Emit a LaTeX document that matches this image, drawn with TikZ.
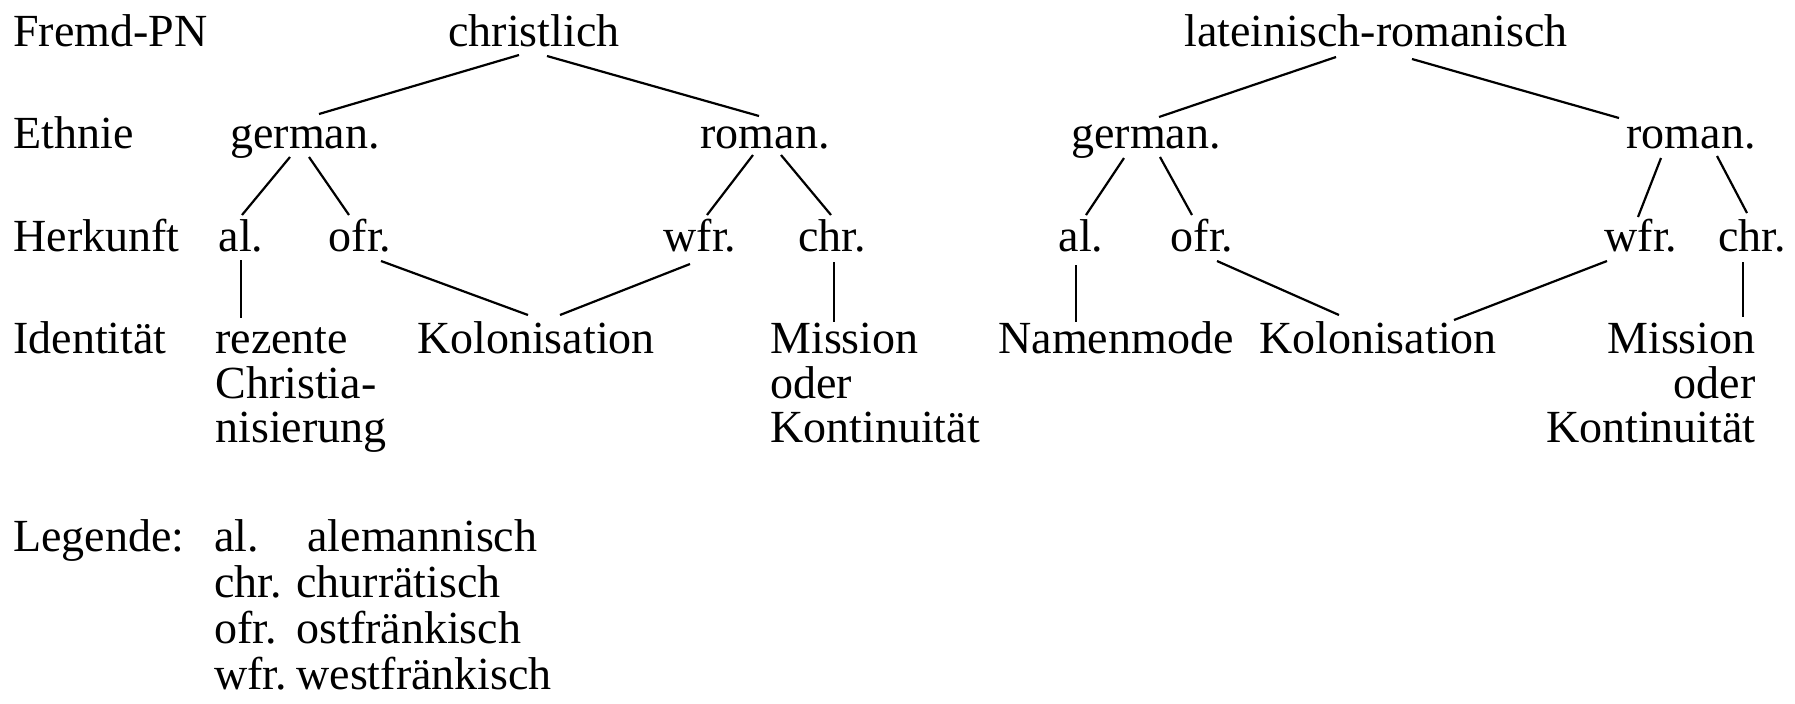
\documentclass[tikz,border=0pt]{standalone}
\usepackage{fontspec}
\setmainfont{Liberation Serif}
\usetikzlibrary{calc}
\begin{document}
\begin{tikzpicture}[x=0.5pt,y=-0.5pt,
  lbl/.style={inner sep=0pt,font=\fontsize{23}{22}\selectfont},
  txt/.style={lbl,anchor=base},
  txtl/.style={lbl,anchor=base west},
  txtr/.style={lbl,anchor=base east},
  edge/.style={line width=1.1pt}]
\useasboundingbox (0,0) rectangle (1795,703);
% row labels
\node[txtl] (rFremd) at (13,46) {Fremd-PN};
\node[txtl] (rEth) at (13,148) {Ethnie};
\node[txtl] (rHerk) at (13,251) {Herkunft};
\node[txtl] (rIdent) at (13,353) {Identität};
% left tree
\node[txt] (christ) at (534,46) {christlich};
\node[txt] (germ) at (305,148) {german.};
\node[txt] (roman) at (765,148) {roman.};
\node[txt] (al) at (241,251) {al.};
\node[txt] (ofr) at (360,251) {ofr.};
\node[txt] (wfr) at (700,251) {wfr.};
\node[txt] (chr) at (832,251) {chr.};
\node[txtl] (rez) at (215,353) {\begin{tabular}[t]{@{}l@{}}rezente\\Christia-\\nisierung\end{tabular}};
\node[txt] (kol) at (536,353) {Kolonisation};
\node[txtl] (mis) at (770,353) {\begin{tabular}[t]{@{}l@{}}Mission\\oder\\Kontinuität\end{tabular}};
% right tree
\node[txt] (lat) at (1376,46) {lateinisch-romanisch};
\node[txt] (germB) at (1146,148) {german.};
\node[txt] (romB) at (1691,148) {roman.};
\node[txt] (alB) at (1081,251) {al.};
\node[txt] (ofrB) at (1202,251) {ofr.};
\node[txt] (wfrB) at (1641,251) {wfr.};
\node[txt] (chrB) at (1752,251) {chr.};
\node[txtl] (nam) at (998,353) {Namenmode};
\node[txt] (kolB) at (1378,353) {Kolonisation};
\node[txtr] (misB) at (1756,353) {\begin{tabular}[t]{@{}r@{}}Mission\\oder\\Kontinuität\end{tabular}};
% legend
\node[txtl] (leg) at (13,551) {Legende:};
\node[txtl] (legT) at (214,551) {\fontsize{23}{23}\selectfont\begin{tabular}[t]{@{}l@{}}\makebox[46.5pt][l]{al.}alemannisch\\\makebox[41pt][l]{chr.}churrätisch\\\makebox[41pt][l]{ofr.}ostfränkisch\\\makebox[41pt][l]{wfr.}westfränkisch\end{tabular}};
% left connectors
\draw[edge] ($(christ.base)+(-15,9)$) -- ($(germ.base)+(14,-34)$);
\draw[edge] ($(christ.base)+(13,10)$) -- ($(roman.base)+(-6,-32)$);
\draw[edge] ($(germ.base)+(-15,9)$) -- ($(al.base)+(1,-36)$);
\draw[edge] ($(germ.base)+(4,9)$) -- ($(ofr.base)+(-11,-36)$);
\draw[edge] ($(roman.base)+(-12,7)$) -- ($(wfr.base)+(7,-36)$);
\draw[edge] ($(roman.base)+(16,7)$) -- ($(chr.base)+(-1,-36)$);
\draw[edge] ($(al.base)+(0,9)$) -- ($(rez.base west)+(26,-35)$);
\draw[edge] ($(ofr.base)+(21,10)$) -- ($(kol.base)+(-8,-38)$);
\draw[edge] ($(wfr.base)+(-10,13)$) -- ($(kol.base)+(24,-38)$);
\draw[edge] ($(chr.base)+(2,11)$) -- ($(mis.base west)+(64,-31)$);
% right connectors
\draw[edge] ($(lat.base)+(-40,11)$) -- ($(germB.base)+(13,-31)$);
\draw[edge] ($(lat.base)+(36,13)$) -- ($(romB.base)+(-72,-30)$);
\draw[edge] ($(germB.base)+(-22,10)$) -- ($(alB.base)+(5,-36)$);
\draw[edge] ($(germB.base)+(14,9)$) -- ($(ofrB.base)+(-10,-36)$);
\draw[edge] ($(romB.base)+(-30,10)$) -- ($(wfrB.base)+(-3,-34)$);
\draw[edge] ($(romB.base)+(26,8)$) -- ($(chrB.base)+(-5,-38)$);
\draw[edge] ($(alB.base)+(-5,14)$) -- ($(nam.base west)+(78,-31)$);
\draw[edge] ($(ofrB.base)+(15,10)$) -- ($(kolB.base)+(-39,-38)$);
\draw[edge] ($(wfrB.base)+(-34,10)$) -- ($(kolB.base)+(76,-33)$);
\draw[edge] ($(chrB.base)+(-9,11)$) -- ($(misB.base east)+(-13,-36)$);
\end{tikzpicture}
\end{document}
